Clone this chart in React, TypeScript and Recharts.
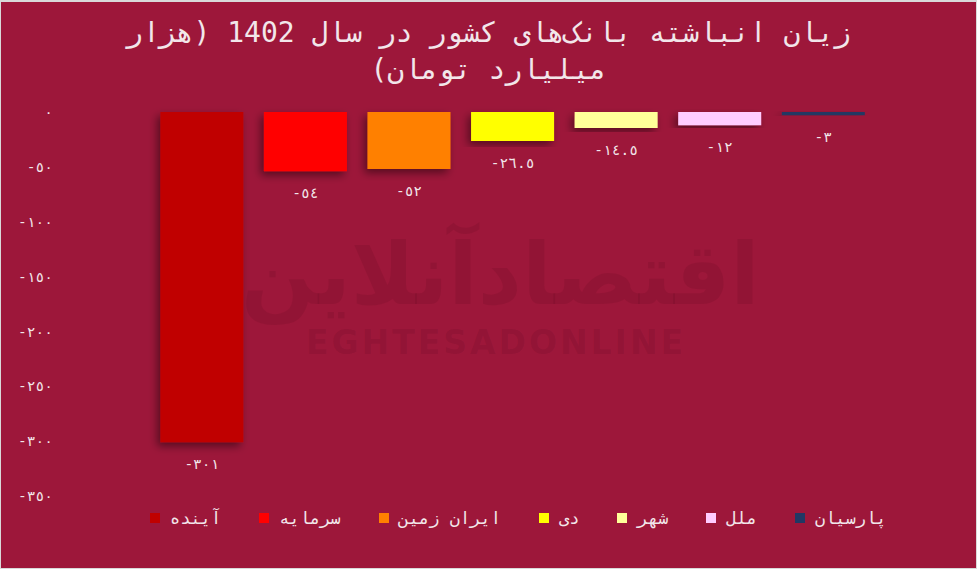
import { BarChart, Bar, Cell, XAxis, YAxis, Legend, LabelList } from 'recharts';

const banks = ['آینده', 'سرمایه', 'ایران زمین', 'دی', 'شهر', 'ملل', 'پارسیان'];
const losses = [-301, -54, -52, -26.5, -14.5, -12, -3];
const yTicks = [0, -50, -100, -150, -200, -250, -300, -350];
const COLORS = ['#C00000', '#FF0000', '#FF8000', '#FFFF00', '#FFFF99', '#FFCCFF', '#203864'];

const chartData = banks.map((name, i) => ({ name, value: losses[i] }));

const FONT = '"DejaVu Sans Mono", monospace';
const BG = '#9D173A';
const TEXT = '#F2E6EA';

// arabic-indic digits, like the original
const toArabicDigits = (v: number) =>
  String(v).replace(/[0-9]/g, (d) => String.fromCharCode(0x0660 + Number(d)));

const ValueLabel = (props: any) => {
  const { x, y, width, height, value } = props;
  const bottom = Math.max(y, y + height);
  return (
    <text
      x={x + width / 2}
      y={bottom + 27}
      textAnchor="middle"
      fill={TEXT}
      fontSize={14.5}
      fontFamily={FONT}
    >
      {toArabicDigits(value)}
    </text>
  );
};

const BankLegend = () => (
  <div style={{ display: 'flex', fontFamily: FONT, fontSize: 17, color: TEXT, paddingLeft: 149 }}>
    {banks.map((name, i) => (
      <div key={name} style={{ display: 'flex', alignItems: 'center', marginRight: 38 }}>
        <span style={{ width: 10, height: 10, background: COLORS[i], marginRight: 10, display: 'inline-block' }} />
        <span>{name}</span>
      </div>
    ))}
  </div>
);

const App = () => {
  return (
    <div style={{ position: 'fixed', left: 0, top: 0, width: 977, height: 569, background: '#D9D9D9' }}>
      <div style={{ position: 'absolute', left: 1, top: 2, width: 975, height: 566, background: BG, overflow: 'hidden' }}>
        <div
          style={{
            position: 'absolute',
            top: 12,
            left: 0,
            width: 975,
            textAlign: 'center',
            fontFamily: FONT,
            fontSize: 28,
            lineHeight: '37px',
            color: TEXT,
            direction: 'rtl',
          }}
        >
          <div>زیان انباشته بانک‌های کشور در سال 1402 (هزار</div>
          <div>میلیارد تومان)</div>
        </div>
        <div
          style={{
            position: 'absolute',
            left: 240,
            top: 222,
            width: 510,
            textAlign: 'center',
            color: 'rgba(60,0,20,0.11)',
            fontFamily: '"DejaVu Sans", sans-serif',
            pointerEvents: 'none',
          }}
        >
          <div style={{ fontSize: 86, fontWeight: 'bold', lineHeight: '100px' }}>اقتصادآنلاین</div>
          <div style={{ fontSize: 33, fontWeight: 'bold', letterSpacing: 3, lineHeight: '38px' }}>EGHTESADONLINE</div>
        </div>
        <BarChart
          width={975}
          height={566}
          data={chartData}
          margin={{ top: 110, right: 101, bottom: 52, left: 0 }}
          barCategoryGap="10%"
          style={{ position: 'absolute', left: 0, top: 0 }}
        >
          <defs>
            <filter id="barShadow" x="-20%" y="-20%" width="140%" height="140%">
              <feDropShadow dx={-3} dy={4} stdDeviation={4} floodColor="#000" floodOpacity={0.45} />
            </filter>
          </defs>
          <XAxis dataKey="name" hide />
          <YAxis
            width={149}
            domain={[-350, 0]}
            ticks={yTicks}
            axisLine={false}
            tickLine={false}
            tickMargin={91}
            tickFormatter={toArabicDigits}
            tick={{ fill: TEXT, fontSize: 14.5, fontFamily: FONT }}
          />
          <Legend
            verticalAlign="bottom"
            content={<BankLegend />}
            wrapperStyle={{ left: 0, width: 975, bottom: 40 }}
          />
          <Bar dataKey="value" isAnimationActive={false} filter="url(#barShadow)">
            {chartData.map((entry, index) => (
              <Cell key={`cell-${index}`} fill={COLORS[index % COLORS.length]} />
            ))}
            <LabelList dataKey="value" content={<ValueLabel />} />
          </Bar>
        </BarChart>
      </div>
    </div>
  );
};

export default App;
